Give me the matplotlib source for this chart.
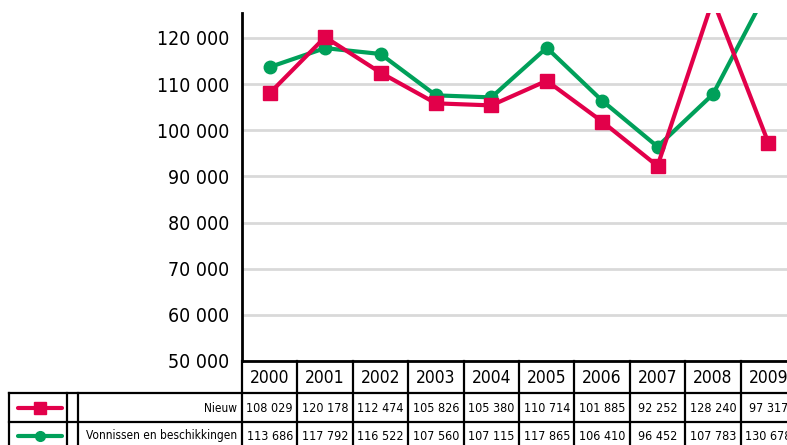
import matplotlib.pyplot as plt
from matplotlib.lines import Line2D

years = ['2000', '2001', '2002', '2003', '2004', '2005', '2006', '2007', '2008', '2009']
nieuw = [108029, 120178, 112474, 105826, 105380, 110714, 101885, 92252, 128240, 97317]
vonnissen = [113686, 117792, 116522, 107560, 107115, 117865, 106410, 96452, 107783, 130678]
series_names = ['Nieuw', 'Vonnissen en beschikkingen']
yticks = [50000, 60000, 70000, 80000, 90000, 100000, 110000, 120000]

red = '#e2004a'
green = '#00a05a'

plt.rcParams['font.family'] = ['DejaVu Sans']
plt.rcParams['font.stretch'] = 'condensed'

W, H = 787, 445
fig = plt.figure(figsize=(W / 100, H / 100), dpi=100)


def fx(x):
    return x / W


def fy(y):
    return 1 - y / H


def fmt(v):
    return f'{v:,}'.replace(',', ' ')


# axes runs past the right edge, like the source crop
ax = fig.add_axes([fx(242), fy(361), fx(796) - fx(242), fy(13) - fy(361)])
x = list(range(len(years)))
ax.set_xlim(-0.5, len(years) - 0.5)
ax.set_ylim(50000, 125400)
ax.set_yticks(yticks)
ax.set_yticklabels([fmt(v) for v in yticks], fontsize=14)
ax.tick_params(axis='y', length=0, pad=9)
ax.set_xticks([])
ax.grid(axis='y', color='#d9d9d9', lw=2)
ax.set_axisbelow(True)
for s in ['top', 'right']:
    ax.spines[s].set_visible(False)
ax.spines['left'].set_linewidth(2)
ax.spines['bottom'].set_linewidth(2)

ax.plot(x, vonnissen, color=green, lw=3, marker='o', ms=9, zorder=3)
ax.plot(x, nieuw, color=red, lw=3, marker='s', ms=10, zorder=4)

# data table below the axes
lw = 1.6
for y in [393, 422]:
    fig.add_artist(Line2D([fx(9), 1.02], [fy(y), fy(y)], color='black', lw=lw))
for xv in [9, 67, 78]:
    fig.add_artist(Line2D([fx(xv), fx(xv)], [fy(393), fy(452)], color='black', lw=lw))
for i in range(len(years) + 1):
    xb = ax.transData.transform((i - 0.5, 0))[0] / W
    fig.add_artist(Line2D([xb, xb], [fy(361), fy(452)], color='black', lw=lw))

for i, yr in enumerate(years):
    xc = ax.transData.transform((i, 0))[0] / W
    fig.text(xc, fy(378), yr, ha='center', va='center', fontsize=12.5)
    for vals, yc in [(nieuw, 408), (vonnissen, 436)]:
        fig.text(xc, fy(yc), fmt(vals[i]), ha='center', va='center', fontsize=9)

for name, yc, col, mk, ms in [(series_names[0], 408, red, 's', 8),
                              (series_names[1], 436, green, 'o', 7)]:
    fig.text(fx(237), fy(yc), name, ha='right', va='center', fontsize=8.6)
    fig.add_artist(Line2D([fx(18), fx(62)], [fy(yc), fy(yc)], color=col, lw=3,
                          solid_capstyle='round'))
    fig.add_artist(Line2D([fx(40)], [fy(yc)], color=col, marker=mk, ms=ms, lw=0))

fig.savefig('out.png', dpi=100)
